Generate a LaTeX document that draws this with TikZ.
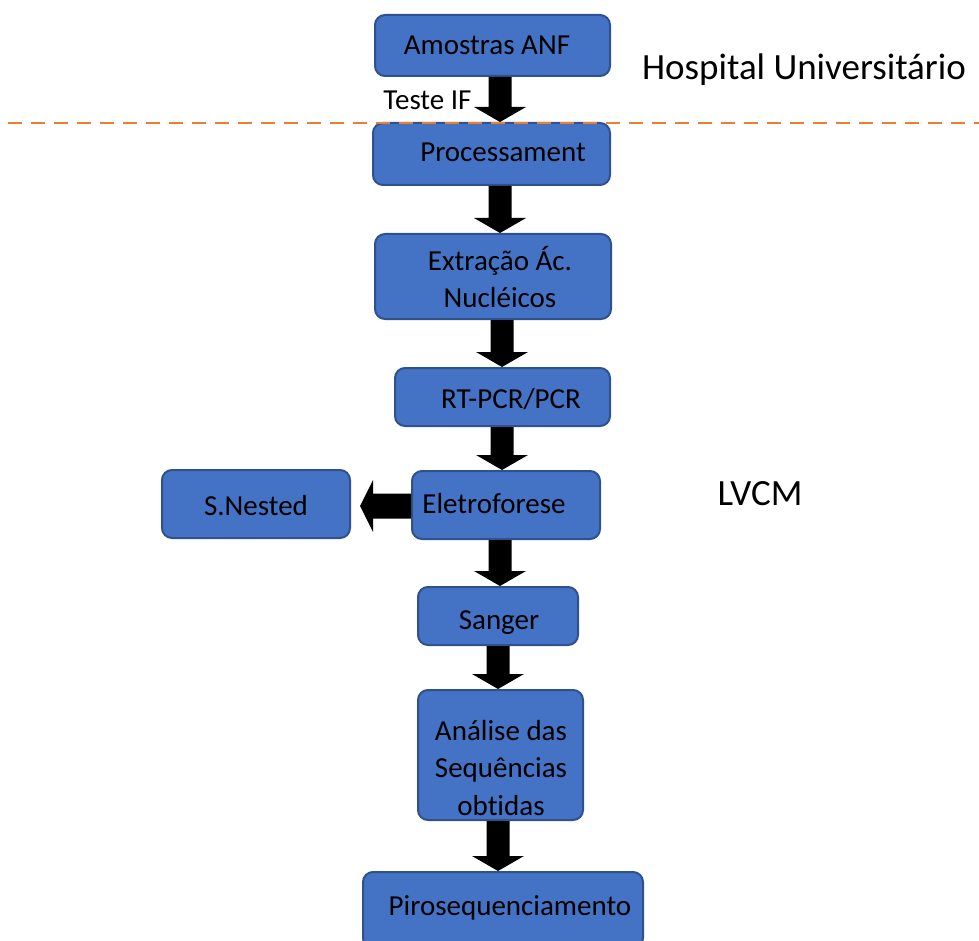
\documentclass[tikz,border=0pt]{standalone}
\usepackage{fontspec}
\setmainfont{Carlito}[Ligatures=NoCommon]
\usetikzlibrary{calc}
\definecolor{boxfill}{HTML}{4472C4}
\definecolor{boxline}{HTML}{2F528F}
\definecolor{orangeline}{HTML}{ED7D31}
\tikzset{
  box/.style={draw=boxline, line width=2pt, fill=boxfill, rounded corners=10pt, inner sep=0pt},
  txt/.style={anchor=base, inner sep=0pt, font=\fontsize{29}{34}\selectfont},
  bigtxt/.style={anchor=base, inner sep=0pt, font=\fontsize{37}{44}\selectfont},
  blockarrow/.style={fill=black},
  sepline/.style={draw=orangeline, line width=2pt, dash pattern=on 14pt off 9pt},
}
% vertical block arrow: #1 = x (px), #2 = source node, #3 = target node
\newcommand{\varrow}[3]{%
  \fill[blockarrow] let \p1=(#2.south), \p2=(#3.north) in
    ({#1pt-11.5pt},\y1) -- ({#1pt+11.5pt},\y1) -- ({#1pt+11.5pt},\y2+15pt)
    -- ({#1pt+26pt},\y2+15pt) -- (#1pt,\y2) -- ({#1pt-26pt},\y2+15pt)
    -- ({#1pt-11.5pt},\y2+15pt) -- cycle;}
% horizontal block arrow (right to left): #1 = y (px), #2 = source, #3 = target
\newcommand{\harrow}[3]{%
  \fill[blockarrow] let \p1=(#2.west), \p2=(#3.east) in
    (\x1,{-#1pt+12.5pt}) -- (\x2+22pt,{-#1pt+12.5pt}) -- (\x2+22pt,{-#1pt+26pt})
    -- (\x2+9pt,-#1pt) -- (\x2+22pt,{-#1pt-26pt}) -- (\x2+22pt,{-#1pt-12.5pt})
    -- (\x1,{-#1pt-12.5pt}) -- cycle;}
\begin{document}
\begin{tikzpicture}[x=1pt,y=-1pt]
  \useasboundingbox (0,0) rectangle (979,941);
  \clip (0,0) rectangle (979,941);
  \fill[white] (0,0) rectangle (979,941);

  % boxes
  \node[box, minimum width=235pt, minimum height=61pt] (amostras) at (492.5,45.5) {};
  \node[box, minimum width=237pt, minimum height=62pt] (proc) at (491.5,154) {};
  \node[box, minimum width=236pt, minimum height=85pt] (extr) at (493,276.5) {};
  \node[box, minimum width=215pt, minimum height=58pt] (rtpcr) at (502.5,397) {};
  \node[box, minimum width=188pt, minimum height=68pt] (eletro) at (506,505) {};
  \node[box, minimum width=188pt, minimum height=68pt] (snested) at (256,504) {};
  \node[box, minimum width=160pt, minimum height=58pt] (sanger) at (498,616) {};
  \node[box, minimum width=165pt, minimum height=130pt] (analise) at (500.5,755) {};
  \node[box, minimum width=280pt, minimum height=76pt] (piro) at (503,910) {};

  % arrows
  \varrow{500}{amostras}{proc}
  \varrow{500}{proc}{extr}
  \varrow{502}{extr}{rtpcr}
  \varrow{502}{rtpcr}{eletro}
  \varrow{500}{eletro}{sanger}
  \varrow{498}{sanger}{analise}
  \varrow{498}{analise}{piro}
  \harrow{506}{eletro}{snested}

  % separator
  \coordinate (sepL) at (8,123);
  \coordinate (sepR) at (979,123);
  \draw[sepline] (sepL) -- (sepR);

  % texts
  \node[txt] (tamostras) at (487,55) {Amostras ANF};
  \node[txt] (tteste) at (427.5,110) {Teste IF};
  \node[txt] (tproc) at (503,162) {Processament};
  \node[txt] (textr1) at (500,270) {Extração Ác.};
  \node[txt] (textr2) at (500,307) {Nucléicos};
  \node[txt] (trtpcr) at (511,408) {RT-PCR/PCR};
  \node[txt] (teletro) at (494,513) {Eletroforese};
  \node[txt] (tsnested) at (256,515) {S.Nested};
  \node[txt] (tsanger) at (499,629) {Sanger};
  \node[txt] (tanal1) at (501,740) {Análise das};
  \node[txt] (tanal2) at (501,777) {Sequências};
  \node[txt] (tanal3) at (501,815) {obtidas};
  \node[txt] (tpiro) at (510,915) {Pirosequenciamento};
  \node[bigtxt] (thosp) at (804,80) {Hospital Universitário};
  \node[bigtxt] (tlvcm) at (760,505) {LVCM};
\end{tikzpicture}
\end{document}
